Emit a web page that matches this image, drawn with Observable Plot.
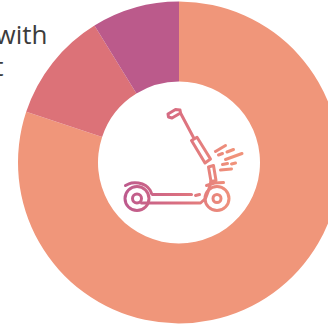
<!DOCTYPE html>
<html>
<head>
<meta charset="utf-8">
<script src="https://cdn.jsdelivr.net/npm/d3@7"></script>
<script src="https://cdn.jsdelivr.net/npm/@observablehq/plot@0.6"></script>
<style>
  html, body { margin: 0; padding: 0; background: #fff; overflow: hidden; }
  svg { display: block; }
</style>
</head>
<body>
<div id="chart"></div>
<script>
// Donut shares, clockwise from twelve o'clock
const segments = ["Largest", "Second", "Third"];
const shares = [80.1, 11.1, 8.8];
const segmentColors = ["#f0967a", "#dc7278", "#bb5a8b"];

// Heading fragments that remain inside the frame
const headingWords = ["with", "t"];

// Scooter pictogram, drawn in the chart's pixel-like units
const wheels = [
  {x: 136.5, y: 198, r: 12},
  {x: 136.5, y: 198, r: 4.5},
  {x: 216.5, y: 198, r: 12},
  {x: 216.5, y: 198, r: 4}
];
const strokes = {
  handlebar: [[167.5, 113.5], [175, 109], [179.5, 109.5], [180, 112.5], [171.5, 117.5], [168, 116.5], [167.5, 113.5]],
  stem: [[180, 112.5], [193, 137]],
  grip: [[191, 140], [196.5, 136.8], [210, 158.5], [204.5, 162.5], [191, 140]],
  fork: [[208, 166.5], [213, 165], [215.5, 180], [210.5, 181], [208, 166.5]],
  frontFender: [[206, 185], [214, 182.5], [223, 182]],
  deckTop: [[152, 194], [191, 194]],
  deckBottom: [[141, 202.5], [200, 202.5], [205, 198], [208, 190], [210.5, 181]],
  deckStep: [[195, 195], [199, 194]],
  spark1: [[215, 151], [225, 145]],
  spark2: [[226.5, 151.5], [233, 149]],
  spark3: [[218, 154.5], [222, 153]],
  spark4: [[225, 159], [241.5, 153]],
  spark5: [[222, 164], [227, 163]],
  spark6: [[231, 163.5], [235, 162.5]],
  spark7: [[220, 169.5], [231, 168.5]]
};
const rearFender = [[125, 185], [131, 182.5], [138, 182.5], [145, 185], [149.5, 189.5], [151, 193]];

const iconStrokes = Object.entries(strokes).flatMap(([part, points]) =>
  points.map(([x, y]) => ({part, x, y})));
const fenderPoints = rearFender.map(([x, y]) => ({x, y}));

const center = {x: 179, y: 162.5};
const outerRadius = 161;
const innerRadius = 81;

const slices = d3.pie().sort(null).value(d => d)(shares);

// Ring drawn with d3.arc, placed through the plot's position scales
function donut(index, {x, y}) {
  const arc = d3.arc().innerRadius(innerRadius).outerRadius(outerRadius);
  const g = d3.create("svg:g")
    .attr("transform", `translate(${x(center.x)},${y(center.y)})`);
  g.selectAll("path").data(slices).join("path")
    .attr("d", arc)
    .attr("fill", (d, i) => segmentColors[i])
    .append("title").text((d, i) => `${segments[i]}: ${shares[i]}%`);
  return g.node();
}

// Horizontal colour sweep shared by every part of the scooter
function scooterGradient() {
  const defs = d3.create("svg:defs");
  const gradient = defs.append("linearGradient")
    .attr("id", "scooter")
    .attr("gradientUnits", "userSpaceOnUse")
    .attr("x1", 124).attr("x2", 232).attr("y1", 0).attr("y2", 0);
  gradient.append("stop").attr("offset", "0%").attr("stop-color", "#bd5a8d");
  gradient.append("stop").attr("offset", "50%").attr("stop-color", "#da6f80");
  gradient.append("stop").attr("offset", "100%").attr("stop-color", "#f0927a");
  return defs.node();
}

const lineStyle = {
  stroke: "url(#scooter)",
  strokeWidth: 3,
  strokeLinecap: "round",
  strokeLinejoin: "round"
};

const chart = Plot.plot({
  width: 328,
  height: 326,
  margin: 0,
  x: {domain: [0, 328], range: [0, 328], axis: null},
  y: {domain: [0, 326], range: [0, 326], axis: null},
  r: {type: "identity"},
  style: {background: "#fff"},
  marks: [
    scooterGradient,
    donut,
    Plot.text(headingWords, {
      x: [47, 3],
      y: [43, 75],
      text: d => d,
      textAnchor: "end",
      lineAnchor: "bottom",
      fontFamily: "Open Sans",
      fontSize: 26,
      fill: "#3c3c3c"
    }),
    Plot.line(iconStrokes, {x: "x", y: "y", z: "part", ...lineStyle}),
    Plot.line(fenderPoints, {x: "x", y: "y", curve: "catmull-rom", ...lineStyle}),
    Plot.dot(wheels, {x: "x", y: "y", r: "r", fill: "none", ...lineStyle})
  ]
});

document.getElementById("chart").append(chart);
</script>
</body>
</html>
